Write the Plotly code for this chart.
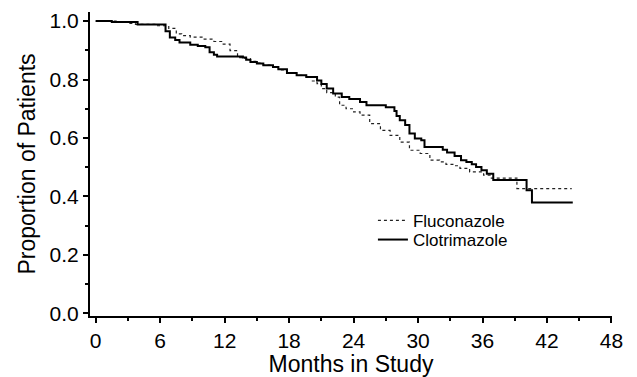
import plotly.graph_objects as go

# Kaplan-Meier estimates (months, proportion)
clot_months = [0, 1.5, 3.9, 6.5, 6.9, 7.4, 7.8, 8.8, 9.5, 10.2, 10.6, 11.0, 11.3, 13.7, 14.0, 14.4,
               15.0, 15.6, 16.5, 17.0, 17.8, 18.7, 19.6, 20.6, 21.0, 21.5, 22.1, 22.9, 23.6, 24.6,
               25.2, 27.0, 27.8, 28.0, 28.3, 28.8, 29.2, 29.7, 30.3, 30.6, 32.3, 32.7, 33.4, 34.0,
               34.5, 35.0, 35.4, 35.9, 36.4, 37.0, 40.1, 40.6, 44.4]
clot_prop = [1.000, 0.997, 0.988, 0.965, 0.944, 0.935, 0.927, 0.919, 0.915, 0.910, 0.893, 0.885,
             0.879, 0.875, 0.868, 0.860, 0.855, 0.849, 0.843, 0.835, 0.822, 0.815, 0.809, 0.797,
             0.785, 0.769, 0.752, 0.740, 0.733, 0.723, 0.712, 0.705, 0.692, 0.675, 0.661, 0.644,
             0.615, 0.598, 0.592, 0.569, 0.560, 0.550, 0.538, 0.524, 0.518, 0.510, 0.501, 0.490,
             0.478, 0.456, 0.421, 0.379, 0.379]

flu_months = [0, 2.1, 3.0, 3.7, 5.5, 6.8, 7.5, 8.0, 8.8, 10.0, 11.0, 11.8, 12.5, 13.2, 13.8, 14.4,
              15.0, 15.6, 16.5, 17.0, 17.8, 18.7, 19.6, 20.1, 20.6, 21.0, 21.5, 22.3, 22.7, 23.3,
              24.0, 24.6, 25.5, 26.5, 27.4, 28.3, 29.2, 30.2, 31.1, 32.0, 32.6, 33.3, 33.9, 34.8,
              36.1, 36.7, 39.2, 44.3]
flu_prop = [1.000, 0.995, 0.992, 0.989, 0.984, 0.975, 0.956, 0.950, 0.945, 0.938, 0.930, 0.921,
            0.899, 0.875, 0.872, 0.862, 0.856, 0.849, 0.842, 0.833, 0.822, 0.814, 0.807, 0.795,
            0.786, 0.769, 0.755, 0.740, 0.712, 0.700, 0.689, 0.678, 0.649, 0.626, 0.609, 0.586,
            0.558, 0.547, 0.524, 0.518, 0.510, 0.505, 0.496, 0.484, 0.473, 0.463, 0.427, 0.427]

x_ticks = [0, 6, 12, 18, 24, 30, 36, 42, 48]
y_ticks = [0.0, 0.2, 0.4, 0.6, 0.8, 1.0]
y_tick_labels = ["0.0", "0.2", "0.4", "0.6", "0.8", "1.0"]

FONT = "Liberation Sans, Arial, sans-serif"

fig = go.Figure()
fig.add_trace(go.Scatter(x=flu_months, y=flu_prop, mode="lines", name="Fluconazole",
                         line=dict(color="#222222", width=1.2, dash="dot", shape="hv"),
                         legend="legend"))
fig.add_trace(go.Scatter(x=clot_months, y=clot_prop, mode="lines", name="Clotrimazole",
                         line=dict(color="black", width=2, shape="hv"),
                         legend="legend2"))

axis_common = dict(showline=True, linecolor="black", linewidth=2, ticks="outside",
                   ticklen=5, tickwidth=2, tickcolor="black", showgrid=False, zeroline=False,
                   automargin=False,
                   tickfont=dict(family=FONT, size=21, color="black"))

fig.update_xaxes(range=[-0.53, 48.05], tickvals=x_ticks, ticktext=[str(t) for t in x_ticks],
                 title=dict(text="Months in Study", font=dict(family=FONT, size=23, color="black"),
                            standoff=6),
                 minor=dict(dtick=3, tick0=0, ticklen=3, tickwidth=2, tickcolor="black",
                            ticks="outside"),
                 **axis_common)
fig.update_yaxes(range=[-0.009, 1.031], tickvals=y_ticks, ticktext=y_tick_labels,
                 title=dict(text="Proportion of Patients",
                            font=dict(family=FONT, size=23, color="black"), standoff=8),
                 minor=dict(dtick=0.1, tick0=0, ticklen=3, tickwidth=2, tickcolor="black",
                            ticks="outside"),
                 **axis_common)

legend_common = dict(font=dict(family=FONT, size=17, color="black"), bgcolor="rgba(0,0,0,0)",
                     borderwidth=0, xanchor="left", yanchor="middle", tracegroupgap=0)
# The page body keeps its default 8px margin, so the figure is sized to fit inside it.
fig.update_layout(
    width=629, height=369,
    margin=dict(l=82, r=25, t=4, b=61, autoexpand=False),
    paper_bgcolor="white", plot_bgcolor="white",
    font=dict(family=FONT, color="black"),
    showlegend=True,
    legend=dict(x=0.542, y=0.313, **legend_common),
    legend2=dict(x=0.542, y=0.250, **legend_common),
)

fig.write_html("out.html")
